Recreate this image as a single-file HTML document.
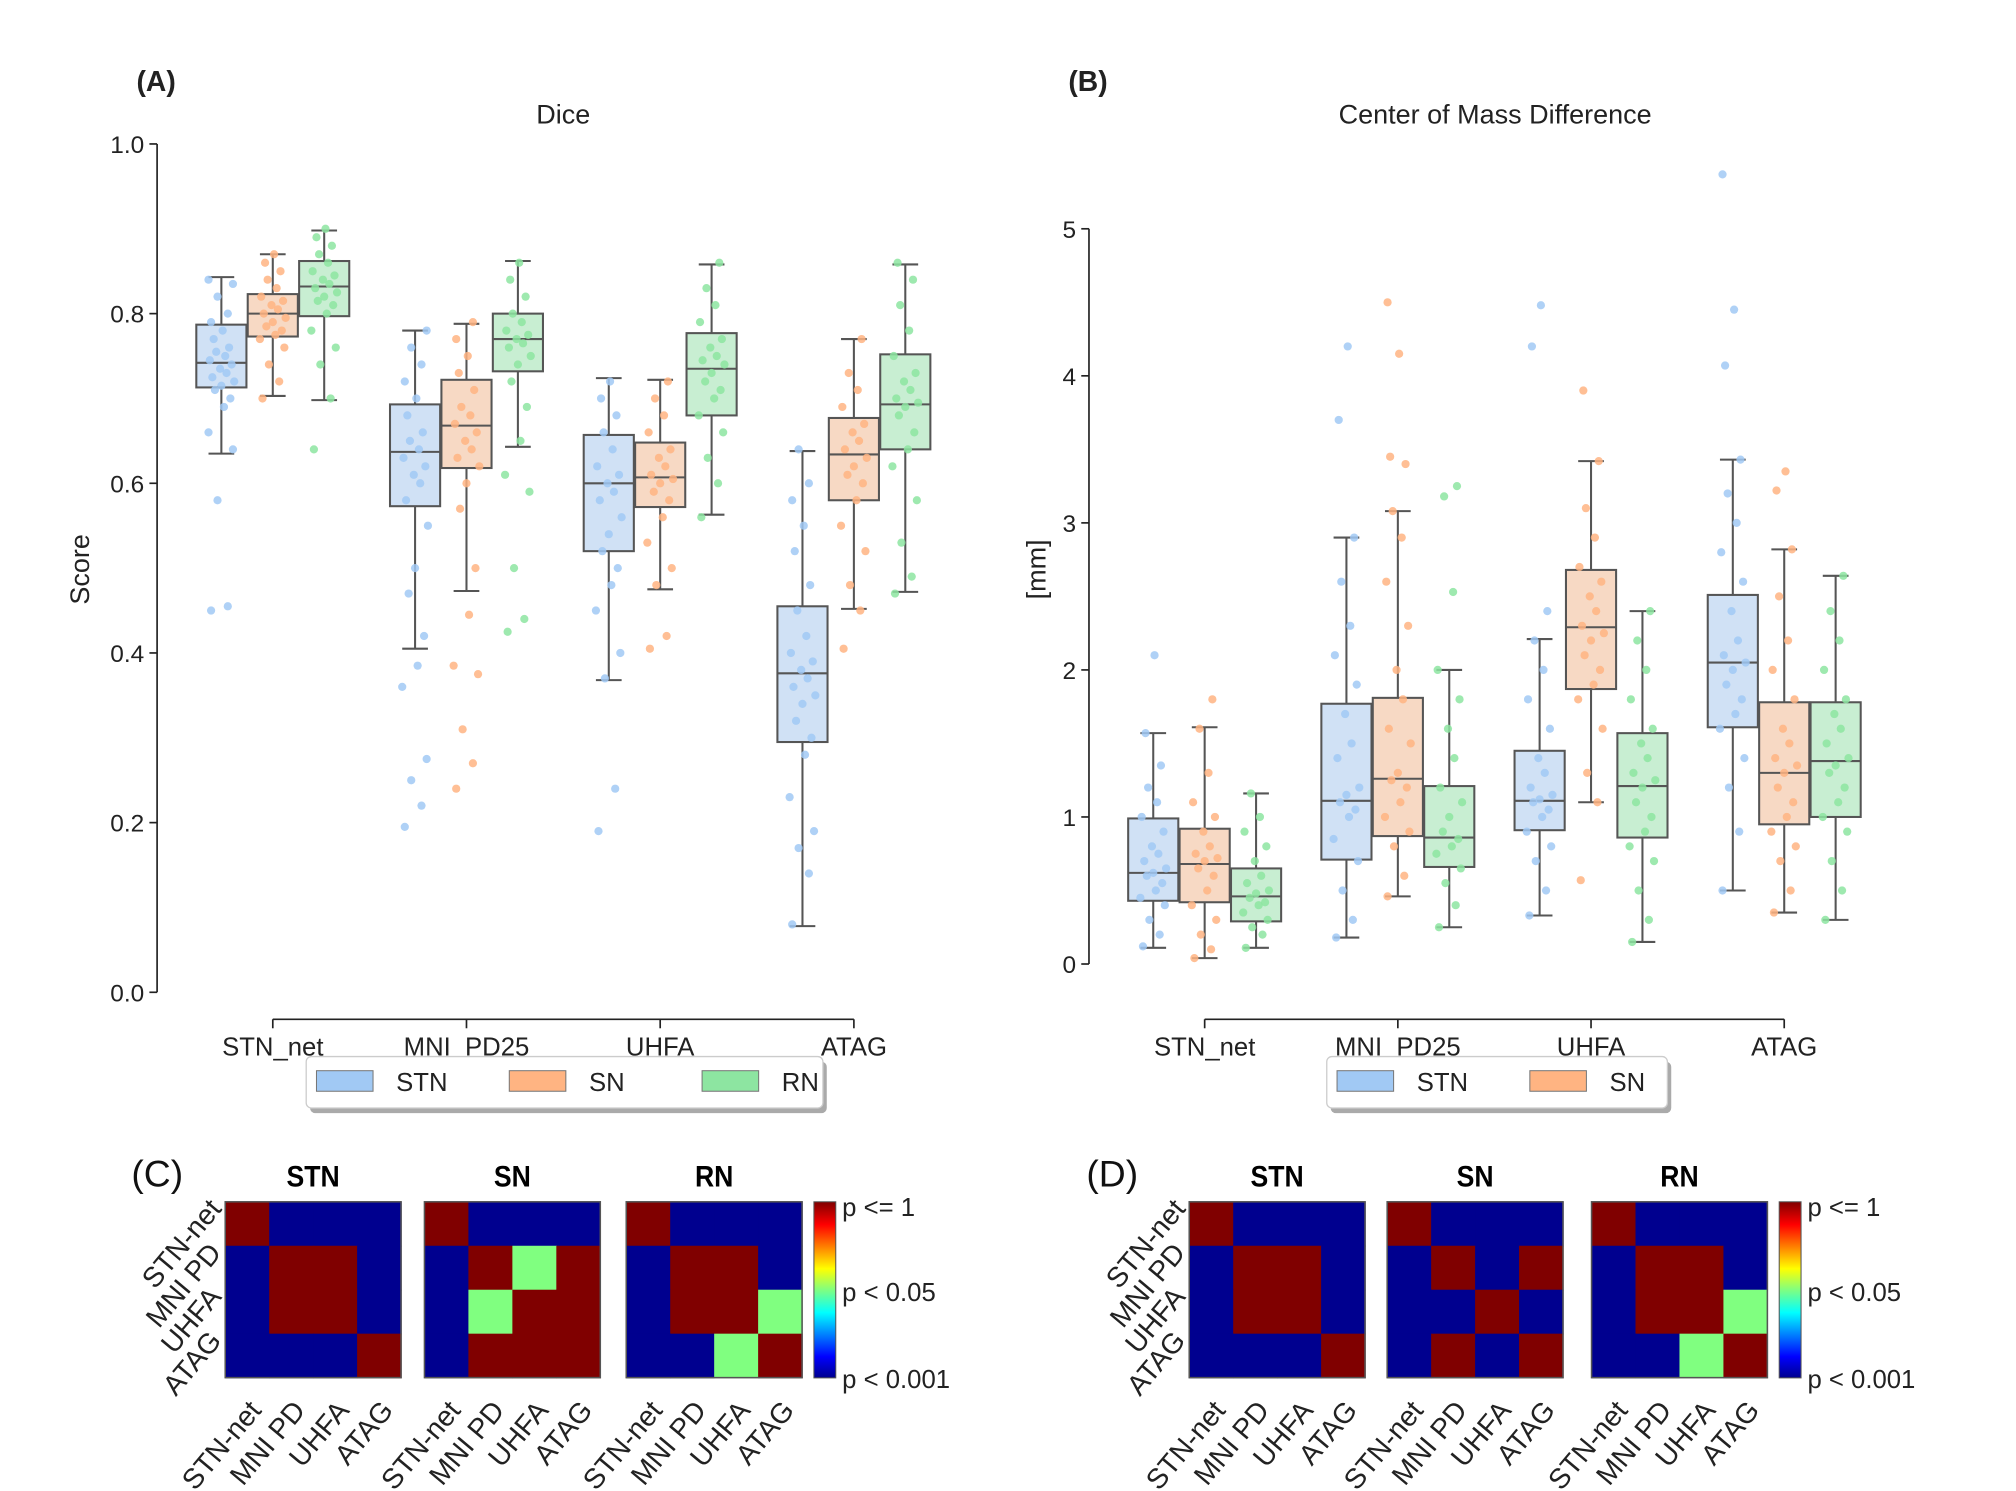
<!DOCTYPE html>
<html><head><meta charset="utf-8"><style>
html,body{margin:0;padding:0;background:#fff;}
svg{display:block;font-family:"Liberation Sans",sans-serif;}
</style></head><body>
<svg id="fig" width="2016" height="1491" viewBox="0 0 1568 1160" xmlns="http://www.w3.org/2000/svg">
<g id="pa"></g>
<g id="pb"></g>
<g id="pc"></g>
<g id="pd"></g>
</svg>
<script>
const categories = ["STN_net","MNI\u00a0\u00a0PD25","UHFA","ATAG"];
const structures = ["STN","SN","RN"];
// [whiskerLow, q1, median, q3, whiskerHigh] per category per structure
const diceStats = [
 [[.635,.713,.742,.787,.843],[.703,.773,.80,.823,.87],[.698,.797,.832,.862,.898]],
 [[.405,.573,.637,.693,.78],[.473,.618,.668,.722,.788],[.643,.732,.77,.80,.862]],
 [[.368,.52,.60,.657,.724],[.475,.572,.607,.648,.722],[.563,.68,.735,.777,.858]],
 [[.078,.295,.376,.455,.638],[.452,.58,.634,.677,.77],[.472,.64,.693,.752,.858]]
];
const dicePoints = [
 [[.45,.455,.58,.64,.66,.69,.70,.71,.715,.72,.725,.73,.735,.74,.745,.75,.755,.76,.77,.78,.79,.80,.82,.835,.84],
  [.70,.72,.74,.76,.77,.775,.78,.785,.79,.795,.80,.805,.81,.815,.82,.83,.84,.85,.86,.87],
  [.64,.70,.74,.76,.78,.80,.81,.815,.82,.825,.83,.835,.84,.845,.85,.86,.87,.88,.89,.90]],
 [[.195,.22,.25,.275,.36,.385,.42,.47,.50,.55,.58,.60,.61,.62,.63,.64,.65,.66,.68,.70,.72,.74,.76,.78],
  [.24,.27,.31,.375,.385,.445,.50,.57,.60,.62,.63,.64,.65,.66,.67,.68,.69,.71,.73,.75,.77,.79],
  [.425,.44,.50,.59,.61,.65,.69,.72,.74,.75,.76,.765,.77,.775,.78,.79,.80,.82,.84,.86]],
 [[.19,.24,.37,.40,.45,.48,.50,.52,.54,.56,.58,.59,.60,.61,.62,.64,.66,.68,.70,.72],
  [.405,.42,.48,.50,.53,.56,.58,.59,.60,.605,.61,.62,.63,.64,.66,.68,.70,.72],
  [.56,.60,.63,.66,.68,.70,.71,.72,.73,.74,.745,.75,.76,.77,.79,.81,.83,.86]],
 [[.08,.14,.17,.19,.23,.28,.30,.32,.34,.35,.36,.37,.38,.39,.40,.42,.45,.48,.52,.55,.58,.60,.64],
  [.405,.45,.48,.52,.55,.58,.60,.61,.62,.63,.64,.65,.66,.67,.69,.71,.73,.77],
  [.47,.49,.53,.58,.62,.64,.66,.68,.69,.695,.70,.71,.72,.73,.75,.78,.81,.84,.86]]
];
const comStats = [
 [[.11,.43,.62,.99,1.57],[.04,.42,.68,.92,1.61],[.11,.29,.46,.65,1.16]],
 [[.18,.71,1.11,1.77,2.9],[.46,.87,1.26,1.81,3.08],[.25,.66,.86,1.21,2.0]],
 [[.33,.91,1.11,1.45,2.21],[1.1,1.87,2.29,2.68,3.42],[.15,.86,1.21,1.57,2.4]],
 [[.5,1.61,2.05,2.51,3.43],[.35,.95,1.3,1.78,2.82],[.3,1.0,1.38,1.78,2.64]]
];
const comPoints = [
 [[.12,.2,.3,.4,.45,.5,.55,.6,.62,.65,.7,.75,.8,.9,1.0,1.1,1.2,1.35,1.57,2.1],
  [.04,.1,.2,.3,.4,.5,.6,.65,.7,.72,.75,.8,.9,1.0,1.1,1.3,1.6,1.8],
  [.11,.2,.25,.3,.35,.4,.42,.45,.48,.5,.55,.6,.7,.8,.9,1.0,1.16]],
 [[.18,.3,.5,.7,.85,1.0,1.05,1.1,1.15,1.2,1.4,1.5,1.7,1.9,2.1,2.3,2.6,2.9,3.7,4.2],
  [.46,.6,.8,.9,1.0,1.1,1.2,1.25,1.3,1.5,1.6,1.8,2.0,2.3,2.6,2.9,3.08,3.4,3.45,4.15,4.5],
  [.25,.4,.55,.65,.75,.8,.85,.9,1.0,1.1,1.2,1.4,1.6,1.8,2.0,2.53,3.18,3.25]],
 [[.33,.5,.7,.8,.9,1.0,1.05,1.1,1.12,1.15,1.2,1.3,1.4,1.6,1.8,2.0,2.2,2.4,4.2,4.48],
  [.57,1.1,1.3,1.6,1.8,1.9,2.0,2.1,2.2,2.25,2.3,2.4,2.5,2.6,2.7,2.9,3.1,3.42,3.9],
  [.15,.3,.5,.7,.8,.9,1.0,1.1,1.2,1.25,1.3,1.4,1.5,1.6,1.8,2.0,2.2,2.4]],
 [[.5,.9,1.2,1.4,1.6,1.7,1.8,1.9,2.0,2.05,2.1,2.2,2.4,2.6,2.8,3.0,3.2,3.43,4.07,4.45,5.37],
  [.35,.5,.7,.8,.9,1.0,1.1,1.2,1.3,1.35,1.4,1.5,1.6,1.8,2.0,2.2,2.5,2.82,3.22,3.35],
  [.3,.5,.7,.9,1.0,1.1,1.2,1.3,1.35,1.4,1.5,1.6,1.7,1.8,2.0,2.2,2.4,2.64]]
];
const diceTicks = ["0.0","0.2","0.4","0.6","0.8","1.0"];
const comTicks = ["0","1","2","3","4","5"];
const heatLabels = ["STN-net","MNI PD","UHFA","ATAG"];
const heatC_STN = [[2,0,0,0],[0,2,2,0],[0,2,2,0],[0,0,0,2]];
const heatC_SN  = [[2,0,0,0],[0,2,1,2],[0,1,2,2],[0,2,2,2]];
const heatC_RN  = [[2,0,0,0],[0,2,2,0],[0,2,2,1],[0,0,1,2]];
const heatD_STN = [[2,0,0,0],[0,2,2,0],[0,2,2,0],[0,0,0,2]];
const heatD_SN  = [[2,0,0,0],[0,2,0,2],[0,0,2,0],[0,2,0,2]];
const heatD_RN  = [[2,0,0,0],[0,2,2,0],[0,2,2,1],[0,0,1,2]];

const NS="http://www.w3.org/2000/svg";
function mk(p,tag,a,txt){const e=document.createElementNS(NS,tag);for(const k in a)e.setAttribute(k,a[k]);if(txt!==undefined)e.textContent=txt;p.appendChild(e);return e;}
const ptCol=["#a1c9f4","#ffb482","#8de5a1"], boxCol=["#d0e1f5","#f7d9c4","#c8eed2"];
const jit=[-8,5,-3,9,-10,2,7,-5,0,10,-7,4,-1,8,-9,3,-4,6,-6,1];

function boxPanel(g,o){
  const y=v=>o.y0+(o.y1-o.y0)*(v-o.vmin)/(o.vmax-o.vmin);
  const xc=i=>o.xs+i*o.step;
  const ax=mk(g,'line',{x1:o.ax,x2:o.ax,y1:y(o.vmin),y2:y(o.vtop),stroke:'#222','stroke-width':1.3});
  
  o.ticks.forEach((t,i)=>{const v=o.vmin+i*o.tstep;
    mk(g,'line',{x1:o.ax-6,x2:o.ax,y1:y(v),y2:y(v),stroke:'#222','stroke-width':1.3});
    const tl=mk(g,'text',{x:o.ax-10,y:y(v)+7,'text-anchor':'end','font-size':19,fill:'#222'},t);
    });
  mk(g,'line',{x1:xc(0),x2:xc(3),y1:793,y2:793,stroke:'#222','stroke-width':1.3});
  categories.forEach((c,i)=>{mk(g,'line',{x1:xc(i),x2:xc(i),y1:793,y2:800,stroke:'#222','stroke-width':1.3});
    const tl=mk(g,'text',{x:xc(i),y:821,'text-anchor':'middle','font-size':20,fill:'#222'},c);
    });
  o.stats.forEach((cat,i)=>cat.forEach((s,j)=>{
    const cx=xc(i)+(j-1)*40, w=39;
    const bg=mk(g,'g',{});
    
    
    mk(bg,'line',{x1:cx,x2:cx,y1:y(s[0]),y2:y(s[1]),stroke:'#555','stroke-width':1.6});
    mk(bg,'line',{x1:cx,x2:cx,y1:y(s[3]),y2:y(s[4]),stroke:'#555','stroke-width':1.6});
    mk(bg,'line',{x1:cx-10,x2:cx+10,y1:y(s[0]),y2:y(s[0]),stroke:'#555','stroke-width':1.6});
    mk(bg,'line',{x1:cx-10,x2:cx+10,y1:y(s[4]),y2:y(s[4]),stroke:'#555','stroke-width':1.6});
    mk(bg,'rect',{x:cx-w/2,y:y(s[3]),width:w,height:y(s[1])-y(s[3]),fill:boxCol[j],stroke:'#555','stroke-width':1.6});
    mk(bg,'line',{x1:cx-w/2,x2:cx+w/2,y1:y(s[2]),y2:y(s[2]),stroke:'#555','stroke-width':1.6});
    o.pts[i][j].forEach((v,k)=>{const p=mk(bg,'circle',{cx:cx+jit[k%jit.length],cy:y(v),r:3.2,fill:ptCol[j],'fill-opacity':0.85});
      });
  }));
}
const pa=document.getElementById('pa'), pb=document.getElementById('pb');
boxPanel(pa,{ax:122,y0:772,y1:112,vmin:0,vmax:1,vtop:1,tstep:0.2,ticks:diceTicks,xs:212,step:150.7,stats:diceStats,pts:dicePoints});
boxPanel(pb,{ax:847,y0:750,y1:178,vmin:0,vmax:5,vtop:5,tstep:1,ticks:comTicks,xs:937,step:150.3,stats:comStats,pts:comPoints});
function txt(g,a,t,name){const e=mk(g,'text',a,t);return e;}
txt(pa,{x:106,y:71,'font-size':22,'font-weight':'bold',fill:'#222'},'(A)','panel-a-label');
txt(pa,{x:438,y:96,'text-anchor':'middle','font-size':21,fill:'#222'},'Dice','panel-a-title');
txt(pa,{x:69,y:443,'text-anchor':'middle','font-size':21,fill:'#222',transform:'rotate(-90 69 443)'},'Score','y-axis-title');
txt(pb,{x:831,y:71,'font-size':22,'font-weight':'bold',fill:'#222'},'(B)','panel-b-label');
txt(pb,{x:1163,y:96,'text-anchor':'middle','font-size':21,fill:'#222'},'Center of Mass Difference','panel-b-title');
txt(pb,{x:813,y:443,'text-anchor':'middle','font-size':21,fill:'#222',transform:'rotate(-90 813 443)'},'[mm]','y-axis-title');
function legend(g,x,w,n){
  const lg=mk(g,'g',{});
  mk(lg,'rect',{x:x+3,y:826,width:w,height:40,rx:4,fill:'#aaa'});
  mk(lg,'rect',{x:x,y:822,width:w,height:40,rx:4,fill:'#fff',stroke:'#ccc'});
  for(let j=0;j<n;j++){const px=x+8+j*150;
    const r=mk(lg,'rect',{x:px,y:833,width:44,height:16,fill:ptCol[j],stroke:'#777','stroke-width':0.8});
    
    txt(lg,{x:px+62,y:849,'font-size':20,fill:'#222'},structures[j],'legend-entry');}
}
legend(pa,238,402,3);legend(pb,1032,265,2);

const hcol=["#00008f","#80ff80","#800000"];
function heat(g,x0,mat,title){
  const y0=935,s=34.2;
  const hg=mk(g,'g',{});
  mat.forEach((row,r)=>row.forEach((v,c)=>{const cell=mk(hg,'rect',{x:x0+c*s,y:y0+r*s,width:s+0.5,height:s+0.5,fill:hcol[v]});
    }));
  mk(hg,'rect',{x:x0,y:y0,width:4*s,height:4*s,fill:'none',stroke:'#555','stroke-width':1.2});
  txt(g,{x:x0+2*s,y:923,'text-anchor':'middle','font-size':23,'font-weight':'bold',fill:'#000',transform:'translate('+(x0+2*s)+' 0) scale(0.9 1) translate('+(-(x0+2*s))+' 0)'},title,'heatmap-title');
  heatLabels.forEach((l,i)=>{const cx=x0+i*s+s/2+12, cy=y0+4*s+26;
    txt(g,{x:cx,y:cy,'text-anchor':'end','font-size':22,fill:'#222',transform:'rotate(-50 '+cx+' '+cy+')'},l,'heatmap-x-label');});
}
function rowLabels(g,x0){heatLabels.forEach((l,i)=>{const cx=x0-2, cy=935+i*34.2+6;
  txt(g,{x:cx,y:cy,'text-anchor':'end','font-size':22,fill:'#222',transform:'rotate(-50 '+cx+' '+cy+')'},l,'heatmap-y-label');});}
function cbar(g,x){
  const defs=mk(g,'defs',{});const lgd=mk(defs,'linearGradient',{id:'jet'+x,x1:0,y1:1,x2:0,y2:0});
  [["0","#00008f"],["0.12","#0000ff"],["0.37","#00ffff"],["0.5","#80ff80"],["0.62","#ffff00"],["0.87","#ff0000"],["1","#800000"]].forEach(s=>mk(lgd,'stop',{offset:s[0],'stop-color':s[1]}));
  const r=mk(g,'rect',{x:x,y:935,width:17,height:137,fill:'url(#jet'+x+')',stroke:'#555','stroke-width':0.8});
  
  txt(g,{x:x+22,y:946,'font-size':20,fill:'#222'},'p <= 1','colorbar-label');
  txt(g,{x:x+22,y:1012,'font-size':20,fill:'#222'},'p < 0.05','colorbar-label');
  txt(g,{x:x+22,y:1080,'font-size':20,fill:'#222'},'p < 0.001','colorbar-label');
}
const pc=document.getElementById('pc'), pd=document.getElementById('pd');
txt(pc,{x:102,y:923,'font-size':29,fill:'#111'},'(C)','panel-c-label');
heat(pc,175,heatC_STN,'STN');heat(pc,330,heatC_SN,'SN');heat(pc,487,heatC_RN,'RN');rowLabels(pc,175);cbar(pc,633);
txt(pd,{x:845,y:923,'font-size':29,fill:'#111'},'(D)','panel-d-label');
heat(pd,925,heatD_STN,'STN');heat(pd,1079,heatD_SN,'SN');heat(pd,1238,heatD_RN,'RN');rowLabels(pd,925);cbar(pd,1384);
</script>
</body></html>
